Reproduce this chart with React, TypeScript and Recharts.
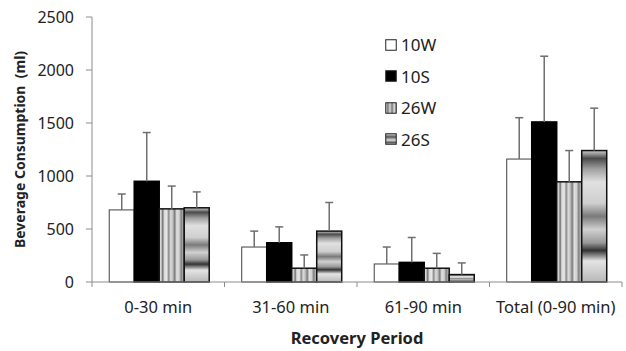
import React from "react";
import { BarChart, Bar, XAxis, YAxis } from "recharts";

const categories = ["0-30 min", "31-60 min", "61-90 min", "Total (0-90 min)"];
const seriesNames = ["10W", "10S", "26W", "26S"];
const w10 = [680, 330, 170, 1160];
const w10Err = [150, 150, 160, 390];
const s10 = [950, 370, 185, 1510];
const s10Err = [460, 150, 235, 620];
const w26 = [690, 130, 130, 945];
const w26Err = [215, 125, 140, 295];
const s26 = [700, 480, 70, 1240];
const s26Err = [150, 270, 110, 400];
const yTicks = [0, 500, 1000, 1500, 2000, 2500];

const data = categories.map((c, i) => ({
  period: c,
  w10: w10[i], w10Err: w10Err[i],
  s10: s10[i], s10Err: s10Err[i],
  w26: w26[i], w26Err: w26Err[i],
  s26: s26[i], s26Err: s26Err[i],
}));

const font = "'Noto Sans', 'Noto Sans CJK KR', sans-serif";
const axisGray = "#8c8c8c";
const errGray = "#6e6e6e";

const fills: Record<string, { fill: string; stroke: string; sw: number }> = {
  w10: { fill: "#ffffff", stroke: "#404040", sw: 1 },
  s10: { fill: "#000000", stroke: "#000000", sw: 1.5 },
  w26: { fill: "url(#g26w)", stroke: "#111", sw: 1.5 },
  s26: { fill: "url(#g26s)", stroke: "#111", sw: 1.5 },
};

const makeShape = (key: string) => (props: any) => {
  const { x, y, width, height, value, payload } = props;
  const st = fills[key];
  const v = Array.isArray(value) ? value[1] - value[0] : value;
  const ppu = v ? height / v : 0;
  const e = payload[key + "Err"] * ppu;
  const cx = x + width / 2;
  return (
    <g>
      <rect x={x} y={y} width={width} height={height} fill={st.fill} stroke={st.stroke} strokeWidth={st.sw} />
      <line x1={cx} y1={y} x2={cx} y2={y - e} stroke={errGray} strokeWidth={1.5} />
      <line x1={cx - 4} y1={y - e} x2={cx + 4} y2={y - e} stroke={errGray} strokeWidth={1.5} />
    </g>
  );
};

const XTick = (props: any) => {
  const { x, y, payload, index, visibleTicksCount } = props;
  const off = payload.offset || 0;
  return (
    <g>
      <line x1={x - off} y1={y - 8} x2={x - off} y2={y - 3} stroke={axisGray} />
      {index === visibleTicksCount - 1 && (
        <line x1={x + off} y1={y - 8} x2={x + off} y2={y - 3} stroke={axisGray} />
      )}
      <text x={x} y={y + 23} textAnchor="middle" fill="#222" fontSize={16.5} fontFamily={font}>
        {payload.value}
      </text>
    </g>
  );
};

const YLabel = (props: any) => {
  const vb = props.viewBox;
  const cx = 19;
  const cy = vb.y + vb.height / 2;
  return (
    <text x={cx} y={cy} transform={`rotate(-90, ${cx}, ${cy})`} textAnchor="middle" dominantBaseline="central"
      fontSize={14} fontWeight="bold" fill="#222" fontFamily={font} style={{ whiteSpace: "pre" }}>
      {"Beverage Consumption\u00a0\u00a0(ml)"}
    </text>
  );
};

const swatch = ["w10", "s10", "w26", "s26"];

const LegendBox = () => (
  <div style={{ position: "absolute", left: 385, top: 29, fontFamily: font, fontSize: 17, color: "#222" }}>
    {seriesNames.map((n, i) => (
      <div key={n} style={{ display: "flex", alignItems: "center", height: 31.5 }}>
        <svg width={12} height={12} style={{ marginRight: 4 }}>
          <rect x={0.75} y={0.75} width={10.5} height={10.5} fill={fills[swatch[i]].fill.replace("#g", "#lg")}
            stroke="#222" strokeWidth={1} />
        </svg>
        <span>{n}</span>
      </div>
    ))}
  </div>
);

export default function App() {
  return (
    <div style={{ position: "absolute", left: 0, top: 0, width: 626, height: 351, background: "#fff" }}>
      <svg width={0} height={0} style={{ position: "absolute" }}>
        <defs>
          <linearGradient id="lg26w" x1="0" y1="0" x2="1" y2="0">
            <stop offset="0" stopColor="#eee" />
            <stop offset="0.2" stopColor="#777" />
            <stop offset="0.4" stopColor="#ddd" />
            <stop offset="0.6" stopColor="#777" />
            <stop offset="0.8" stopColor="#ddd" />
            <stop offset="1" stopColor="#999" />
          </linearGradient>
          <linearGradient id="lg26s" x1="0" y1="0" x2="0" y2="1">
            <stop offset="0" stopColor="#ddd" />
            <stop offset="0.3" stopColor="#555" />
            <stop offset="0.6" stopColor="#ddd" />
            <stop offset="0.85" stopColor="#555" />
            <stop offset="1" stopColor="#ccc" />
          </linearGradient>
        </defs>
      </svg>
      <BarChart width={626} height={351} data={data} margin={{ top: 17, right: 4, bottom: 0, left: 0 }}
        barCategoryGap="13%" barGap={0}>
        <defs>
          <linearGradient id="g26w" x1="0" y1="0" x2="1" y2="0">
            <stop offset="0" stopColor="#f0f0f0" />
            <stop offset="0.08" stopColor="#c8c8c8" />
            <stop offset="0.14" stopColor="#707070" />
            <stop offset="0.2" stopColor="#d8d8d8" />
            <stop offset="0.3" stopColor="#e8e8e8" />
            <stop offset="0.38" stopColor="#8a8a8a" />
            <stop offset="0.46" stopColor="#dcdcdc" />
            <stop offset="0.54" stopColor="#c0c0c0" />
            <stop offset="0.62" stopColor="#7a7a7a" />
            <stop offset="0.7" stopColor="#e0e0e0" />
            <stop offset="0.8" stopColor="#d0d0d0" />
            <stop offset="0.88" stopColor="#808080" />
            <stop offset="1" stopColor="#d8d8d8" />
          </linearGradient>
          <linearGradient id="g26s" x1="0" y1="0" x2="0" y2="1">
            <stop offset="0" stopColor="#d0d0d0" />
            <stop offset="0.06" stopColor="#4a4a4a" />
            <stop offset="0.14" stopColor="#a0a0a0" />
            <stop offset="0.24" stopColor="#e0e0e0" />
            <stop offset="0.4" stopColor="#cfcfcf" />
            <stop offset="0.5" stopColor="#7a7a7a" />
            <stop offset="0.6" stopColor="#d0d0d0" />
            <stop offset="0.7" stopColor="#9a9a9a" />
            <stop offset="0.76" stopColor="#333" />
            <stop offset="0.84" stopColor="#e4e4e4" />
            <stop offset="1" stopColor="#b8b8b8" />
          </linearGradient>
        </defs>
        <XAxis dataKey="period" height={69} tickLine={false} stroke={axisGray} tick={<XTick />} interval={0}
          label={{ value: "Recovery Period", position: "insideBottom", offset: 7, fontSize: 16.5, fontWeight: "bold", fill: "#222", fontFamily: font }} />
        <YAxis width={92} domain={[0, 2500]} ticks={yTicks} stroke={axisGray} tickSize={6}
          tick={{ fill: "#222", fontSize: 16, fontFamily: font }} tickMargin={12} label={<YLabel />} />
        <Bar dataKey="w10" name="10W" shape={makeShape("w10")} isAnimationActive={false} />
        <Bar dataKey="s10" name="10S" shape={makeShape("s10")} isAnimationActive={false} />
        <Bar dataKey="w26" name="26W" shape={makeShape("w26")} isAnimationActive={false} />
        <Bar dataKey="s26" name="26S" shape={makeShape("s26")} isAnimationActive={false} />
      </BarChart>
      <LegendBox />
    </div>
  );
}
